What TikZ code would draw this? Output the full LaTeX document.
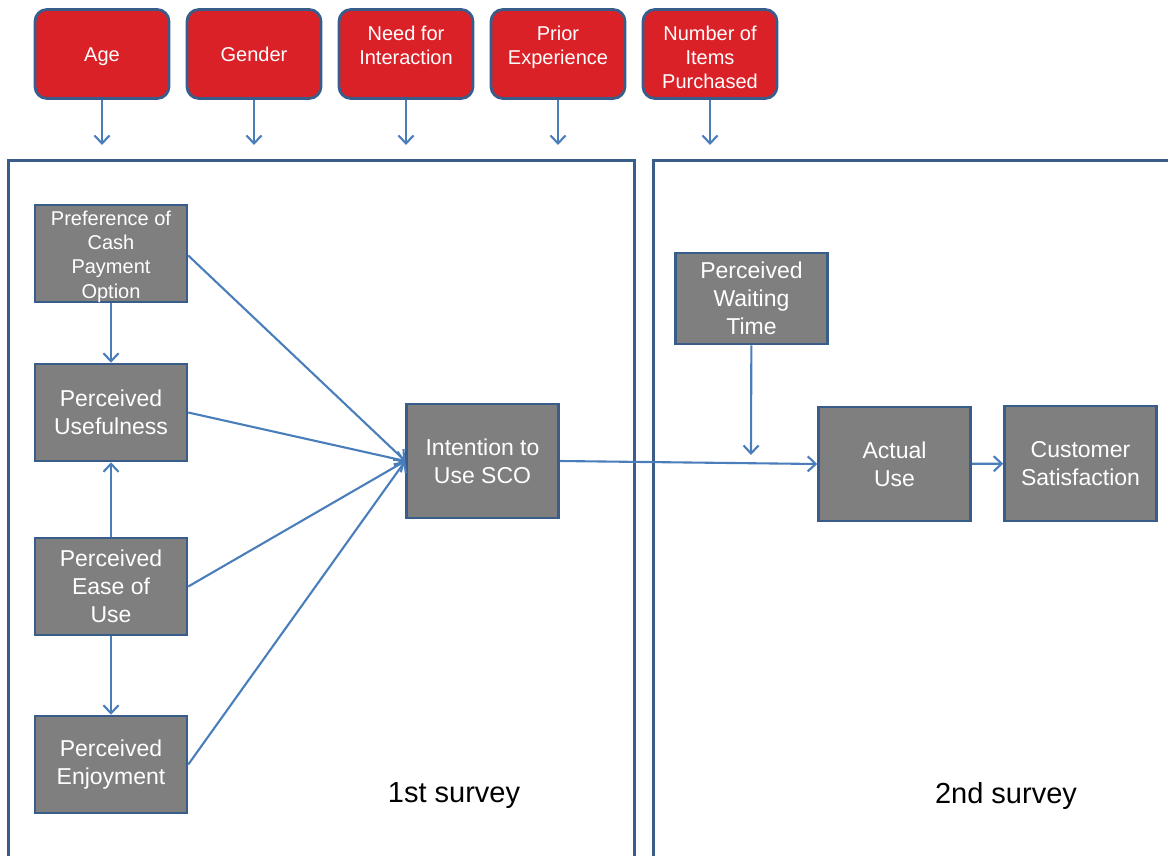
\documentclass[tikz,border=0pt]{standalone}
\usepackage{fontspec}
\setmainfont{Liberation Sans}
\usetikzlibrary{arrows.meta}
\definecolor{bord}{HTML}{385D8A}
\definecolor{arr}{HTML}{4A7EBB}
\definecolor{redf}{HTML}{DA2128}
\definecolor{grayf}{HTML}{7F7F7F}
\begin{document}
\begin{tikzpicture}[x=1pt,y=-1pt,
  redbox/.style={draw=bord,line width=2.8pt,fill=redf,rounded corners=12pt,minimum width=134pt,minimum height=89pt,inner sep=0pt},
  redtxt/.style={inner sep=0pt,text=white,align=center,font=\fontsize{20}{24}\selectfont},
  graybox/.style={draw=bord,line width=2.5pt,fill=grayf,minimum width=152pt,minimum height=97pt,inner sep=0pt,text=white,align=center,font=\fontsize{23}{28}\selectfont},
  panel/.style={draw=bord,line width=3pt},
  conn/.style={draw=arr,line width=2.1pt,-{Straight Barb[length=8pt,width=15pt,line width=2.1pt]}},
  lbl/.style={font=\fontsize{29}{34}\selectfont}]
\useasboundingbox (0,0) rectangle (1168,855);
% panels
\draw[panel] (8,870) -- (8,160) -- (634,160) -- (634,870);
\draw[panel] (653,870) -- (653,160) -- (1180,160);
% red boxes
\node[redbox] (age) at (102,54) {};
\node[redbox] (gen) at (254,54) {};
\node[redbox] (need) at (406,54) {};
\node[redbox] (prior) at (558,54) {};
\node[redbox] (num) at (710,54) {};
\node[redtxt] (agetxt) at (102,57) {Age};
\node[redtxt] (gentxt) at (254,54) {Gender};
\node[redtxt] (needtxt) at (406,45) {Need for\\Interaction};
\node[redtxt] (priortxt) at (558,47) {Prior\\Experience};
\node[redtxt] (numtxt) at (710,57) {Number of\\Items\\Purchased};
\coordinate (age2) at (102,145);
\coordinate (gen2) at (254,145);
\coordinate (need2) at (406,145);
\coordinate (prior2) at (558,145);
\coordinate (num2) at (710,145);
\draw[conn] (age) -- (age2);
\draw[conn] (gen) -- (gen2);
\draw[conn] (need) -- (need2);
\draw[conn] (prior) -- (prior2);
\draw[conn] (num) -- (num2);
% gray boxes
\node[graybox] (pref) at (111,253.5) {};
\node[redtxt,font=\fontsize{20}{24.3}\selectfont] (preftxt) at (111,256.5) {Preference of\\Cash\\Payment\\Option};
\node[graybox] (use) at (111,412.5) {Perceived\\Usefulness};
\node[graybox] (ease) at (111,586.5) {Perceived\\Ease of\\Use};
\node[graybox] (enj) at (111,764.5) {Perceived\\Enjoyment};
\node[graybox,minimum height=114pt] (int) at (482.5,461) {Intention to\\Use SCO};
\node[graybox,minimum height=91pt] (wait) at (751.5,298.5) {Perceived\\Waiting\\Time};
\node[graybox,minimum height=114pt] (act) at (894.5,464) {Actual\\Use};
\node[graybox,minimum height=115pt] (cust) at (1080.5,463.5) {Customer\\Satisfaction};
\coordinate (waitend) at (751,455);
% connectors
\draw[conn] (pref) -- (use);
\draw[conn] (ease) -- (use);
\draw[conn] (ease) -- (enj);
\draw[conn] (pref.east) ++(0,2) -- (int.west);
\draw[conn] (use.east) -- (int.west);
\draw[conn] (ease.east) -- (int.west);
\draw[conn] (enj.east) -- (int.west);
\draw[conn] (int.east) -- (act.west);
\draw[conn] (wait) -- (waitend);
\draw[conn] (act) -- (cust);
% labels
\node[lbl] (s1) at (454,796) {1st survey};
\node[lbl] (s2) at (1006,796) {2nd survey};
\end{tikzpicture}
\end{document}
